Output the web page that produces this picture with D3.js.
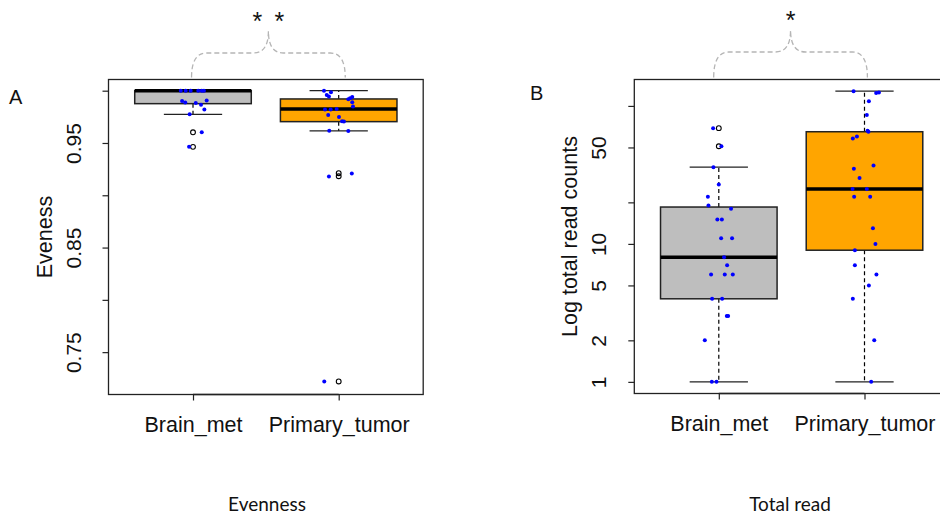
<!DOCTYPE html>
<html>
<head>
<meta charset="utf-8">
<script src="https://cdn.jsdelivr.net/npm/d3@7"></script>
<style>
  body { margin: 0; background: #fff; }
  svg { display: block; font-family: "Liberation Sans", Arial, Helvetica, sans-serif; }
</style>
</head>
<body>
<svg id="chart" width="940" height="519"></svg>
<script>
// groups and colours
const categories = ["Brain_met", "Primary_tumor"];
const boxFills = ["#BEBEBE", "#FFA500"];

// Panel A: evenness, box stats [lowWhisker, q1, median, q3, highWhisker]
const evenStats = [
  [0.9774, 0.9876, 1.0, 1.0, 1.0],
  [0.9615, 0.9704, 0.9826, 0.9921, 1.0]
];
const evenOutliers = [[0.9602, 0.9463], [0.9211, 0.9182, 0.7220]];
const evenBrainVals = [1.0, 1.0, 1.0, 1.0, 1.0, 1.0, 0.9902, 0.9888, 0.9883, 0.9866, 0.9907, 0.9819, 0.9774, 0.9602, 0.9463];
const evenBrainJitter = [-0.084, -0.050, -0.016, 0.036, 0.060, 0.075, -0.075, -0.053, 0.019, 0.055, 0.094, 0.078, -0.023, 0.060, -0.027];
const evenPrimVals = [1.0, 0.9986, 0.9959, 0.9945, 0.9918, 0.9940, 0.9927, 0.9890, 0.9849, 0.9819, 0.9819, 0.9826, 0.9768, 0.9749, 0.9707, 0.9706, 0.9616, 0.9614, 0.9180, 0.9208, 0.7220];
const evenPrimJitter = [-0.101, -0.053, -0.082, -0.067, 0.066, 0.093, 0.078, 0.093, 0.098, -0.094, -0.055, -0.014, -0.072, 0.002, 0.023, 0.036, -0.065, 0.066, -0.067, 0.090, -0.099];
const evenTicks = [0.75, 0.80, 0.85, 0.90, 0.95, 1.00];
const evenTickLabels = ["0.75", "", "0.85", "", "0.95", ""];

// Panel B: total read counts (log axis)
const readStats = [
  [1, 4, 8, 18.5, 36],
  [1, 9, 25, 65, 128]
];
const readOutliers = [[51, 69], []];
const readBrainVals = [69, 51, 36, 27, 22, 19, 18, 15, 15, 11, 11, 8, 7, 6, 6, 6, 4, 4, 3, 3, 2, 1, 1];
const readBrainJitter = [-0.039, 0.018, -0.037, 0.0, -0.075, -0.071, 0.084, -0.010, 0.021, 0.016, 0.091, 0.036, 0.057, -0.053, 0.041, 0.096, -0.046, 0.023, 0.055, 0.064, -0.096, -0.048, -0.016];
const readPrimVals = [128, 124, 125, 108, 86, 66, 65, 60, 58, 37, 35, 30, 25, 25, 22, 22, 13, 10, 9, 7, 6, 5, 4, 2, 1];
const readPrimJitter = [-0.075, 0.080, 0.099, 0.030, 0.016, 0.021, 0.027, -0.052, -0.080, 0.062, -0.073, -0.034, -0.082, 0.016, -0.071, 0.039, 0.058, 0.075, -0.066, -0.066, 0.082, 0.030, -0.080, 0.067, 0.046];
const readTicks = [1, 2, 5, 10, 20, 50, 100];
const readTickLabels = ["1", "2", "5", "10", "", "50", ""];

const svg = d3.select("#chart");

function drawPanel(opt) {
  const g = svg.append("g");
  const x = d3.scaleLinear().domain([0.42, 2.58]).range([opt.left, opt.left + 314.7]);
  const y = opt.y;
  const unit = x(2) - x(1);

  // boxes
  opt.stats.forEach((s, i) => {
    const cx = x(i + 1);
    const bw = 0.8 * unit, sw = 0.4 * unit;
    const [lo, q1, med, q3, hi] = s;
    // whiskers
    [[q3, hi], [q1, lo]].forEach(([a, b]) => {
      if (a === b) return;
      g.append("line").attr("x1", cx).attr("x2", cx).attr("y1", y(a)).attr("y2", y(b))
        .attr("stroke", "#000").attr("stroke-width", 1.2).attr("stroke-dasharray", "4,3");
    });
    [lo, hi].forEach(v => {
      g.append("line").attr("x1", cx - sw / 2).attr("x2", cx + sw / 2).attr("y1", y(v)).attr("y2", y(v))
        .attr("stroke", "#222").attr("stroke-width", 1.3);
    });
    g.append("rect").attr("x", cx - bw / 2).attr("width", bw)
      .attr("y", y(q3)).attr("height", y(q1) - y(q3))
      .attr("fill", boxFills[i]).attr("stroke", "#222").attr("stroke-width", 1.5);
    g.append("line").attr("x1", cx - bw / 2).attr("x2", cx + bw / 2).attr("y1", y(med)).attr("y2", y(med))
      .attr("stroke", "#000").attr("stroke-width", 3.5);
    opt.outliers[i].forEach(v => {
      g.append("circle").attr("cx", cx).attr("cy", y(v)).attr("r", 2.4)
        .attr("fill", "none").attr("stroke", "#000").attr("stroke-width", 1.1);
    });
  });

  // jittered points
  opt.points.forEach((p, i) => {
    g.selectAll(null).data(p.vals.map((v, k) => ({ v, j: p.jit[k] })))
      .join("circle")
      .attr("cx", d => x(i + 1 + d.j))
      .attr("cy", d => y(d.v))
      .attr("r", 2)
      .attr("fill", "#0000FF");
  });

  // frame
  g.append("rect").attr("x", x(0.42)).attr("y", y.range()[1])
    .attr("width", x(2.58) - x(0.42)).attr("height", y.range()[0] - y.range()[1])
    .attr("fill", "none").attr("stroke", "#222").attr("stroke-width", 1.3);

  // y axis
  const ya = g.append("g").attr("transform", `translate(${x(0.42)},0)`)
    .call(d3.axisLeft(y).tickValues(opt.ticks).tickSize(6).tickSizeOuter(0)
      .tickFormat((d, i) => opt.tickLabels[i]));
  ya.select(".domain").remove();
  ya.selectAll(".tick line").attr("stroke", "#222").attr("stroke-width", 1.2);
  ya.selectAll(".tick text").attr("x", null).attr("dy", null)
    .attr("text-anchor", "middle").attr("transform", "translate(-28,0) rotate(-90)")
    .attr("font-size", 21).attr("fill", "#111").attr("font-family", null);

  // x axis
  const xa = g.append("g").attr("transform", `translate(0,${y.range()[0]})`)
    .call(d3.axisBottom(x).tickValues([1, 2]).tickSize(6).tickSizeOuter(0)
      .tickFormat((d, i) => categories[i]));
  xa.select(".domain").remove();
  xa.append("line").attr("x1", x(1)).attr("x2", x(2)).attr("stroke", "#222").attr("stroke-width", 1.3);
  xa.selectAll(".tick line").attr("stroke", "#222").attr("stroke-width", 1.2);
  xa.selectAll(".tick text").attr("y", 37).attr("dy", null)
    .attr("font-size", 21.5).attr("fill", "#111").attr("font-family", null);

  // y title
  const midY = (y.range()[0] + y.range()[1]) / 2;
  g.append("text").attr("transform", `translate(${x(0.42) - 57},${midY}) rotate(-90)`)
    .attr("text-anchor", "middle").attr("font-size", 21.5).attr("fill", "#111").text(opt.yTitle);

  // panel letter
  g.append("text").attr("x", opt.letterX).attr("y", opt.letterY)
    .attr("font-size", 20).attr("fill", "#111").text(opt.letter);

  // significance brace
  const x1 = x(opt.brace[0]), x2 = x(opt.brace[1]), xm = (x1 + x2) / 2;
  const yb = y.range()[1] - 2, yh = opt.braceY, yt = opt.braceY - 22, r = 15;
  const p = d3.path();
  p.moveTo(x1, yb);
  p.quadraticCurveTo(x1, yh, x1 + r, yh);
  p.lineTo(xm - r, yh);
  p.quadraticCurveTo(xm, yh, xm, yt);
  p.quadraticCurveTo(xm, yh, xm + r, yh);
  p.lineTo(x2 - r, yh);
  p.quadraticCurveTo(x2, yh, x2, yb);
  g.append("path").attr("d", p.toString()).attr("fill", "none")
    .attr("stroke", "#b5b5b5").attr("stroke-width", 1.3).attr("stroke-dasharray", "5,3");
  const n = opt.stars;
  for (let k = 0; k < n; k++) {
    g.append("text").attr("x", xm + (k - (n - 1) / 2) * 22).attr("y", yt - 1)
      .attr("text-anchor", "middle").attr("font-size", 25).attr("fill", "#111").text("*");
  }

  // bottom caption
  g.append("text").attr("x", opt.captionX).attr("y", 511)
    .attr("text-anchor", "middle").attr("font-family", "Lato, 'Open Sans', sans-serif")
    .attr("font-size", 19).attr("fill", "#111").text(opt.caption);
}

drawPanel({
  left: 108.5,
  y: d3.scaleLinear().domain([0.7095, 1.0107]).range([394.5, 79.5]),
  stats: evenStats,
  outliers: evenOutliers,
  points: [{ vals: evenBrainVals, jit: evenBrainJitter }, { vals: evenPrimVals, jit: evenPrimJitter }],
  ticks: evenTicks,
  tickLabels: evenTickLabels,
  yTitle: "Eveness",
  letter: "A", letterX: 9, letterY: 104,
  brace: [0.99, 2.045], braceY: 53, stars: 2,
  caption: "Evenness", captionX: 267
});

drawPanel({
  left: 634.3,
  y: d3.scaleLog().domain([Math.pow(10, -0.0843), Math.pow(10, 2.1915)]).range([393.5, 79.5]),
  stats: readStats,
  outliers: readOutliers,
  points: [{ vals: readBrainVals, jit: readBrainJitter }, { vals: readPrimVals, jit: readPrimJitter }],
  ticks: readTicks,
  tickLabels: readTickLabels,
  yTitle: "Log total read counts",
  letter: "B", letterX: 530, letterY: 100,
  brace: [0.965, 2.02], braceY: 52, stars: 1,
  caption: "Total read", captionX: 790
});
</script>
</body>
</html>
